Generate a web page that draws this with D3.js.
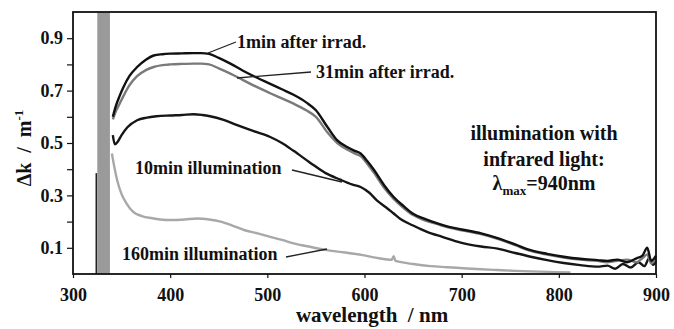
<!DOCTYPE html>
<html lang="en">
<head>
  <meta charset="UTF-8" />
  <title>Delta k spectra</title>
  <style>
    body { margin: 0; background: #fff; }
    svg text { font-family: "Liberation Serif", "Times New Roman", serif; font-weight: bold; fill: #111; white-space: pre; }
    .data-line { fill: none; stroke-width: 2.4px; stroke-linejoin: round; }
    .tick line { stroke: #111; stroke-width: 1.2px; }
    .domain { display: none; }
  </style>
</head>
<body>
  <script src="https://cdn.jsdelivr.net/npm/d3@7"></script>
  <script>
    // wavelength (nm) / delta k (1/m)
    var wl1 = [341, 344, 348, 352, 358, 366, 375, 383, 392, 400, 412, 424, 432, 440, 450, 462, 475, 490, 503, 515, 527, 540, 550, 562, 572, 582, 590, 596, 603, 610, 620, 630, 640, 650, 662, 675, 687, 700, 720, 737, 755, 771, 788, 805, 822, 840, 850, 860, 870, 880, 886, 891, 895, 900];
    var k1min = [0.6, 0.64, 0.68, 0.714, 0.755, 0.79, 0.818, 0.834, 0.839, 0.841, 0.842, 0.843, 0.843, 0.84, 0.825, 0.803, 0.776, 0.748, 0.726, 0.705, 0.684, 0.655, 0.625, 0.56, 0.51, 0.485, 0.47, 0.46, 0.43, 0.396, 0.34, 0.294, 0.26, 0.23, 0.21, 0.193, 0.18, 0.17, 0.155, 0.137, 0.113, 0.091, 0.077, 0.066, 0.058, 0.053, 0.05, 0.055, 0.045, 0.06, 0.07, 0.1, 0.05, 0.07];
    var k31min = [0.59, 0.62, 0.65, 0.68, 0.72, 0.755, 0.778, 0.79, 0.797, 0.8, 0.802, 0.803, 0.803, 0.8, 0.785, 0.765, 0.74, 0.712, 0.69, 0.67, 0.65, 0.625, 0.6, 0.54, 0.5, 0.475, 0.46, 0.45, 0.42, 0.385, 0.33, 0.287, 0.253, 0.225, 0.205, 0.19, 0.177, 0.167, 0.152, 0.134, 0.11, 0.088, 0.074, 0.063, 0.055, 0.05, 0.045, 0.05, 0.055, 0.045, 0.06, 0.075, 0.04, 0.06];

    var wl10 = [341, 343, 346, 350, 356, 366, 376, 386, 400, 412, 424, 433, 441, 455, 469, 486, 503, 515, 527, 544, 560, 575, 587, 596, 605, 613, 622, 630, 637, 650, 665, 680, 699, 720, 737, 755, 771, 788, 805, 822, 840, 850, 858, 866, 874, 882, 888, 893, 897, 900];
    var k10min = [0.53, 0.495, 0.505, 0.53, 0.56, 0.587, 0.597, 0.602, 0.605, 0.607, 0.61, 0.607, 0.602, 0.588, 0.568, 0.545, 0.523, 0.5, 0.47, 0.425, 0.385, 0.36, 0.342, 0.332, 0.31, 0.28, 0.255, 0.231, 0.21, 0.185, 0.16, 0.142, 0.12, 0.105, 0.097, 0.08, 0.066, 0.053, 0.042, 0.034, 0.028, 0.032, 0.02, 0.038, 0.025, 0.045, 0.03, 0.06, 0.035, 0.05];

    var wl160 = [340, 343, 346, 350, 355, 362, 370, 383, 400, 415, 428, 440, 452, 464, 476, 490, 503, 515, 527, 545, 561, 580, 598, 615, 628, 630, 632, 634, 650, 668, 685, 702, 720, 737, 755, 771, 790, 812];
    var k160min = [0.46, 0.4, 0.35, 0.305, 0.27, 0.237, 0.222, 0.212, 0.206, 0.208, 0.212, 0.208, 0.2, 0.185, 0.168, 0.155, 0.142, 0.13, 0.117, 0.103, 0.091, 0.082, 0.072, 0.06, 0.054, 0.068, 0.05, 0.048, 0.038, 0.03, 0.026, 0.022, 0.018, 0.015, 0.012, 0.01, 0.008, 0.006];

    var xTicks = [300, 400, 500, 600, 700, 800, 900];
    var yTicks = [0.1, 0.2, 0.3, 0.4, 0.5, 0.6, 0.7, 0.8, 0.9];
    var yLabelled = [0.1, 0.3, 0.5, 0.7, 0.9];

    var lampBand = [325, 338];   // grey artefact band
    var lampSpike = [324, 0.385];

    var w = 674;
    var h = 329;
    var margin = { top: 12, right: 18, bottom: 55, left: 73 };
    var iw = w - margin.left - margin.right;
    var ih = h - margin.top - margin.bottom;

    var svg = d3.select("body").append("svg")
      .attr("width", w)
      .attr("height", h);

    var xScale = d3.scaleLinear().domain([300, 900]).range([0, iw]);
    var yScale = d3.scaleLinear().domain([0, 1]).range([ih, 0]);

    var g = svg.append("g")
      .attr("transform", "translate(" + margin.left + "," + margin.top + ")");

    // artefact band + spike near 330 nm
    g.append("rect")
      .attr("x", xScale(lampBand[0]))
      .attr("y", 0)
      .attr("width", xScale(lampBand[1]) - xScale(lampBand[0]))
      .attr("height", ih)
      .attr("fill", "#9a9a9a");

    g.append("line")
      .attr("x1", xScale(lampSpike[0])).attr("x2", xScale(lampSpike[0]))
      .attr("y1", yScale(0)).attr("y2", yScale(lampSpike[1]))
      .attr("stroke", "#222").attr("stroke-width", 1.6);

    var series = [
      { wl: wl160, k: k160min, color: "#a8a8a8" },
      { wl: wl10, k: k10min, color: "#161616" },
      { wl: wl1, k: k31min, color: "#7a7a7a" },
      { wl: wl1, k: k1min, color: "#111111" }
    ];

    var line = d3.line()
      .x(function(d) { return xScale(d[0]); })
      .y(function(d) { return yScale(d[1]); })
      .curve(d3.curveMonotoneX);

    series.forEach(function(s) {
      g.append("path")
        .datum(d3.zip(s.wl, s.k))
        .attr("class", "data-line")
        .attr("stroke", s.color)
        .attr("d", line);
    });

    // axes
    var xAxis = d3.axisBottom(xScale)
      .tickValues(xTicks)
      .tickSize(4)
      .tickPadding(10)
      .tickFormat(d3.format("d"));

    var yAxis = d3.axisLeft(yScale)
      .tickValues(yTicks)
      .tickSize(6)
      .tickPadding(4)
      .tickFormat(function(d) {
        return yLabelled.indexOf(d) >= 0 ? d3.format(".1f")(d) : "";
      });

    g.append("g")
      .attr("transform", "translate(0," + ih + ")")
      .call(xAxis)
      .selectAll("text").style("font-size", "18px");

    g.append("g")
      .call(yAxis)
      .selectAll("text").style("font-size", "18px");

    g.selectAll(".tick text").attr("fill", "#111");

    // frame
    g.append("rect")
      .attr("x", 0).attr("y", 0)
      .attr("width", iw).attr("height", ih)
      .attr("fill", "none")
      .attr("stroke", "#111")
      .attr("stroke-width", 1.8);

    // axis titles
    svg.append("text")
      .attr("x", 372)
      .attr("y", 322)
      .attr("text-anchor", "middle")
      .style("font-size", "21px")
      .text("wavelength  / nm");

    var yt = svg.append("text")
      .attr("transform", "translate(31," + (margin.top + ih / 2 + 5) + ") rotate(-90)")
      .attr("text-anchor", "middle")
      .style("font-size", "20px");
    yt.append("tspan").text("\u0394k  /  m");
    yt.append("tspan").attr("dy", -8).style("font-size", "13px").text("-1");

    // annotations with leader lines
    var notes = [
      { text: "1min after irrad.", x: 237, y: 48, lx1: 236, ly1: 42, lx2: 208, ly2: 53 },
      { text: "31min after irrad.", x: 316, y: 78, lx1: 311, ly1: 72, lx2: 237, ly2: 78 },
      { text: "10min illumination", x: 135, y: 174, lx1: 292, ly1: 170, lx2: 342, ly2: 182 },
      { text: "160min illumination", x: 122, y: 260, lx1: 286, ly1: 257, lx2: 327, ly2: 249 }
    ];

    notes.forEach(function(n) {
      svg.append("line")
        .attr("x1", n.lx1).attr("y1", n.ly1)
        .attr("x2", n.lx2).attr("y2", n.ly2)
        .attr("stroke", "#222").attr("stroke-width", 1.3);
      svg.append("text")
        .attr("x", n.x).attr("y", n.y)
        .style("font-size", "18px")
        .text(n.text);
    });

    var info = svg.append("g").attr("transform", "translate(544,0)");
    info.append("text").attr("y", 140).attr("text-anchor", "middle")
      .style("font-size", "20px").text("illumination with");
    info.append("text").attr("y", 166).attr("text-anchor", "middle")
      .style("font-size", "20px").text("infrared light:");
    var lm = info.append("text").attr("y", 190).attr("text-anchor", "middle")
      .style("font-size", "20px");
    lm.append("tspan").text("\u03bb");
    lm.append("tspan").attr("dy", 5).style("font-size", "13px").text("max");
    lm.append("tspan").attr("dy", -5).text("=940nm");
  </script>
</body>
</html>
